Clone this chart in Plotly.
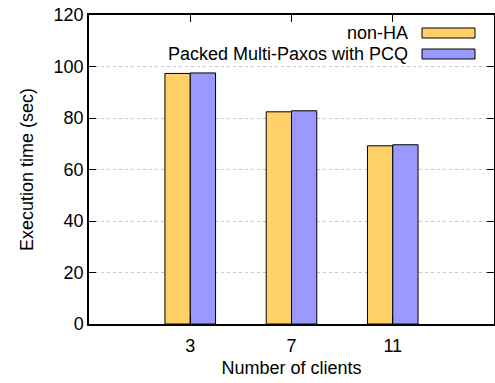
import plotly.graph_objects as go

clients = [3, 7, 11]
non_ha = [97.3, 82.4, 69.2]
packed = [97.5, 82.8, 69.6]
series_names = ["non-HA", "Packed Multi-Paxos with PCQ"]
colors = ["#FFD166", "#9999FF"]
y_ticks = [0, 20, 40, 60, 80, 100, 120]

fig = go.Figure()
for name, vals, c in zip(series_names, [non_ha, packed], colors):
    fig.add_trace(go.Bar(x=clients, y=vals, name=name,
                         marker=dict(color=c, line=dict(color="black", width=1)), width=1.0))

font = dict(family="Liberation Sans, Arial, sans-serif", size=18, color="black")
fig.update_layout(
    template="none",
    width=495, height=383,
    margin=dict(l=89, r=1, t=15, b=59),
    plot_bgcolor="white", paper_bgcolor="white",
    barmode="group", bargap=0.5, bargroupgap=0,
    showlegend=False, font=font,
)
fig.update_xaxes(range=[-1, 15], tickvals=clients, ticktext=[str(c) for c in clients],
                 showline=True, linecolor="black", linewidth=1.5, mirror="allticks",
                 ticks="inside", ticklen=7, tickcolor="black", tickwidth=1, showgrid=False, zeroline=False,
                 automargin=False, tickfont=font, ticklabelstandoff=5,
                 title=dict(text="Number of clients", standoff=6, font=font))
fig.update_yaxes(range=[0, 120], tickvals=y_ticks,
                 showline=True, linecolor="black", linewidth=1.5, mirror="allticks",
                 ticks="inside", ticklen=7, tickcolor="black", tickwidth=1, showgrid=True,
                 gridcolor="#c8c8c8", griddash="dot", gridwidth=1, zeroline=False,
                 automargin=False, tickfont=font,
                 title=dict(text="Execution time (sec)", standoff=15, font=font))

pw, ph = 495 - 89 - 1, 383 - 15 - 59
def px(xp):
    return (xp - 89) / pw
def py(yp):
    return 1 - (yp - 15) / ph

rows_y = [33, 54]
for name, c, yy in zip(series_names, colors, rows_y):
    fig.add_annotation(x=px(410), y=py(yy), xref="paper", yref="paper", text=name, showarrow=False,
                       xanchor="right", yanchor="middle", font=font)
    fig.add_shape(type="rect", xref="paper", yref="paper", x0=px(422), x1=px(475),
                  y0=py(yy - 5), y1=py(yy + 5), fillcolor=c, line=dict(color="black", width=1))

fig.write_html("out.html", config={"displayModeBar": False},
               post_script="document.body.style.margin='0px';document.body.style.overflow='hidden';")
